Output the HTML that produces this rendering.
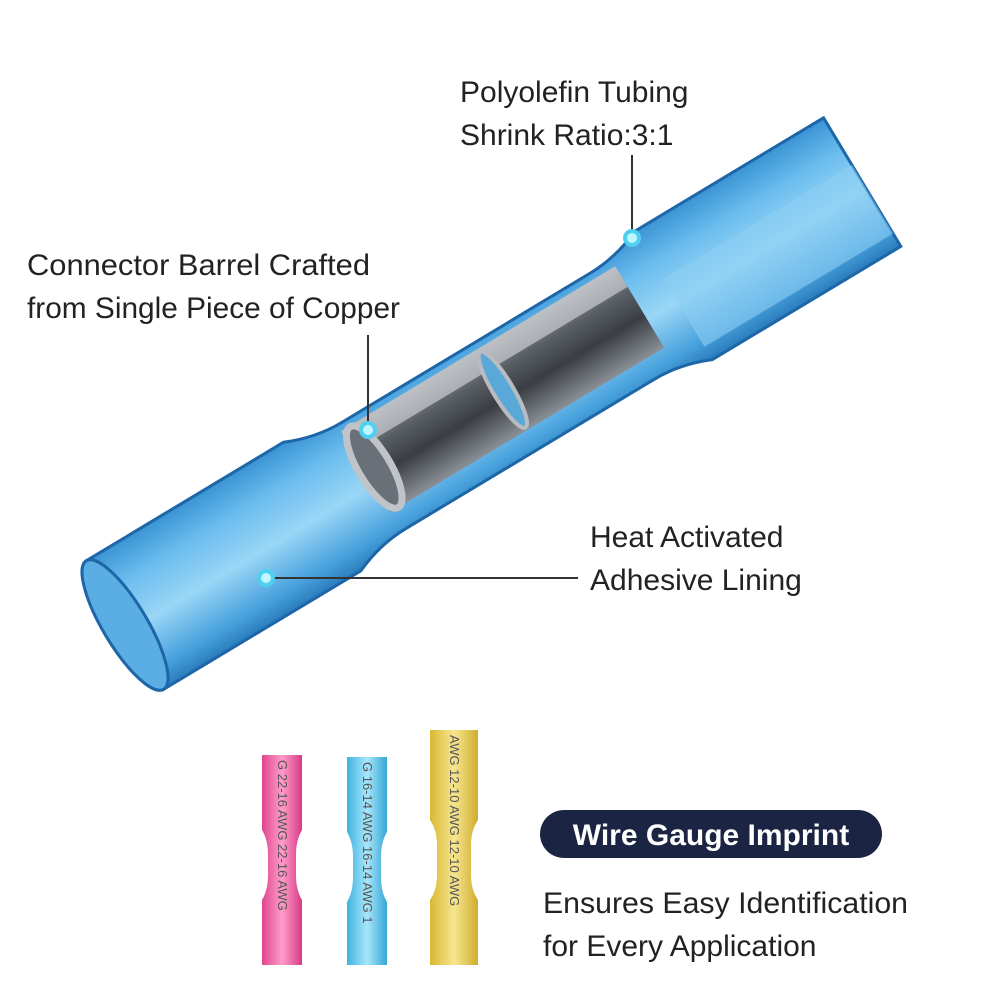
<!DOCTYPE html>
<html><head><meta charset="utf-8"><style>
html,body{margin:0;padding:0;background:#fff;}
svg{display:block}
text{font-family:"Liberation Sans",sans-serif;}
</style></head><body>
<svg width="1000" height="1000" viewBox="0 0 1000 1000">
<defs>
<linearGradient id="tb" x1="0" y1="0" x2="0" y2="1">
<stop offset="0" stop-color="#3a93d4"/><stop offset="0.25" stop-color="#6bbdee"/><stop offset="0.55" stop-color="#9ad6f6"/><stop offset="0.85" stop-color="#4aa3de"/><stop offset="1" stop-color="#2a7cbc"/>
</linearGradient>
<linearGradient id="mt" x1="0" y1="0" x2="0" y2="1">
<stop offset="0" stop-color="#a0a6ac"/><stop offset="0.3" stop-color="#5a5f66"/><stop offset="0.6" stop-color="#3a3e44"/><stop offset="1" stop-color="#8a9096"/>
</linearGradient>
<linearGradient id="pk" x1="0" x2="1"><stop offset="0" stop-color="#e0458f"/><stop offset="0.5" stop-color="#ff9cca"/><stop offset="1" stop-color="#d83b86"/></linearGradient>
<linearGradient id="bl" x1="0" x2="1"><stop offset="0" stop-color="#3eb3e0"/><stop offset="0.5" stop-color="#a8e6fa"/><stop offset="1" stop-color="#35a6d6"/></linearGradient>
<linearGradient id="yl" x1="0" x2="1"><stop offset="0" stop-color="#d8b732"/><stop offset="0.5" stop-color="#f7e690"/><stop offset="1" stop-color="#cfad2c"/></linearGradient>
</defs>
<g transform="translate(125,625) rotate(-31)">
<path d="M0,-75 L230,-75 Q260,-62 290,-62 L580,-62 Q610,-62 640,-75 L860,-75 L860,75 L640,75 Q610,62 580,62 L290,62 Q260,62 230,75 L0,75 Z" fill="url(#tb)" stroke="#1d66a8" stroke-width="3"/>
<ellipse cx="0" cy="0" rx="22" ry="75" fill="#5aaee4" stroke="#1d66a8" stroke-width="3"/>
<path d="M640,-20 L860,-20 L860,60 L640,60 Z" fill="#8ccff3" opacity="0.6"/>
<rect x="285" y="-55" width="320" height="95" fill="url(#mt)"/>
<rect x="285" y="-55" width="320" height="24" fill="#c9ccd0" opacity="0.7"/>
<ellipse cx="295" cy="-7" rx="16" ry="47" fill="#6a7078" stroke="#c0c4c8" stroke-width="7"/>
<ellipse cx="445" cy="-7" rx="10" ry="44" fill="#5aa8d8" stroke="#b8bcc0" stroke-width="4"/>
</g>
<g stroke="#333" stroke-width="2" fill="none">
<line x1="632" y1="155" x2="632" y2="236"/>
<line x1="368" y1="335" x2="368" y2="428"/>
<line x1="268" y1="578" x2="578" y2="578"/>
</g>
<g fill="#bff6ff" stroke="#4fd0f0" stroke-width="4">
<circle cx="632" cy="238" r="7"/><circle cx="368" cy="430" r="7"/><circle cx="266" cy="578" r="7"/>
</g>
<g font-size="30" fill="#222">
<text x="460" y="102">Polyolefin Tubing</text>
<text x="460" y="145">Shrink Ratio:3:1</text>
<text x="27" y="275" textLength="343" lengthAdjust="spacingAndGlyphs">Connector Barrel Crafted</text>
<text x="27" y="318" textLength="373" lengthAdjust="spacingAndGlyphs">from Single Piece of Copper</text>
<text x="590" y="547">Heat Activated</text>
<text x="590" y="590">Adhesive Lining</text>
<text x="543" y="913" textLength="365" lengthAdjust="spacingAndGlyphs">Ensures Easy Identification</text>
<text x="543" y="956">for Every Application</text>
</g>
<rect x="540" y="810" width="342" height="48" rx="24" fill="#1b2442"/>
<text x="711" y="845" text-anchor="middle" font-size="30" font-weight="bold" fill="#fff">Wire Gauge Imprint</text>
<path d="M262,755 h40 v75 q-6,10 -6,25 v20 q0,15 6,25 v65 h-40 v-65 q6,-10 6,-25 v-20 q0,-15 -6,-25 z" fill="url(#pk)"/>
<path d="M347,757 h40 v75 q-6,10 -6,25 v20 q0,15 6,25 v63 h-40 v-63 q6,-10 6,-25 v-20 q0,-15 -6,-25 z" fill="url(#bl)"/>
<path d="M430,730 h48 v90 q-7,10 -7,25 v30 q0,15 7,25 v65 h-48 v-65 q7,-10 7,-25 v-30 q0,-15 -7,-25 z" fill="url(#yl)"/>
<g font-family="Liberation Mono" font-size="13" fill="#555">
<text transform="translate(278,760) rotate(90)">G 22-16 AWG 22-16 AWG</text>
<text transform="translate(363,762) rotate(90)">G 16-14 AWG 16-14 AWG 1</text>
<text transform="translate(450,735) rotate(90)">AWG 12-10 AWG 12-10 AWG</text>
</g>
</svg>
</body></html>
